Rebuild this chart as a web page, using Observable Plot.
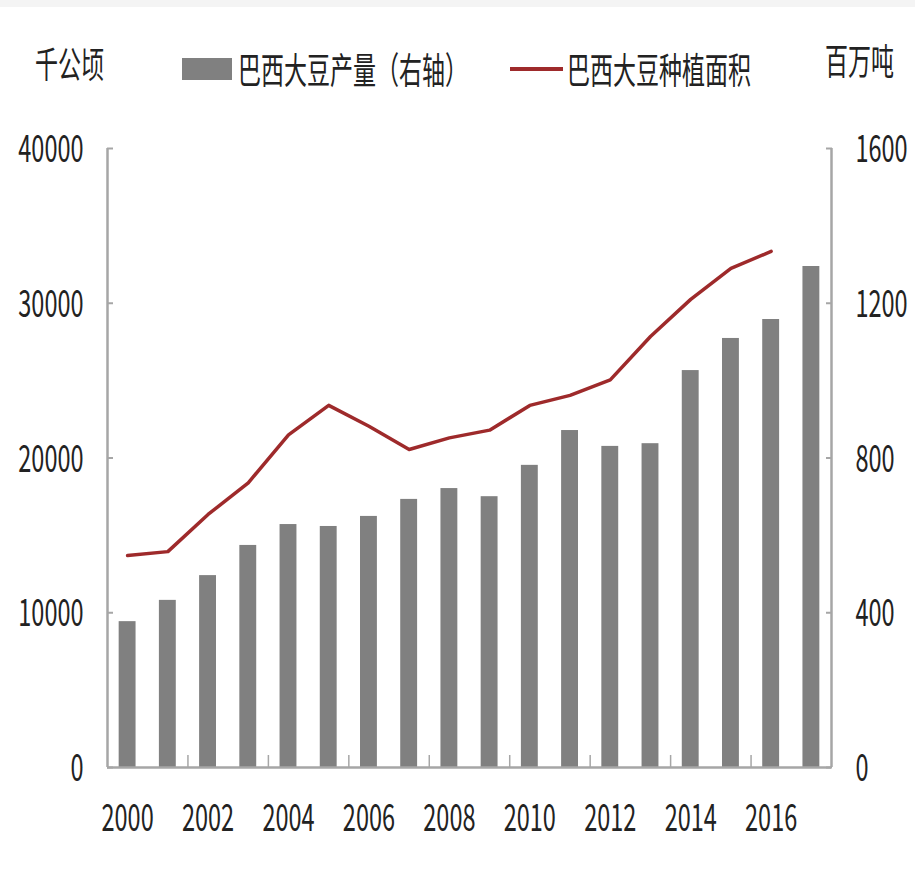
<!DOCTYPE html>
<html><head><meta charset="utf-8">
<script src="https://cdn.jsdelivr.net/npm/d3@7"></script>
<script src="https://cdn.jsdelivr.net/npm/@observablehq/plot@0.6"></script>
<style>
body{margin:0;background:#fff;}
#wrap{position:relative;width:915px;height:878px;overflow:hidden;font-family:"Noto Sans CJK SC";color:#222;}
#strip{position:absolute;left:0;top:0;width:915px;height:7px;background:#f4f4f4;}
#header{position:relative;height:100px;}
.t{position:absolute;font-size:23px;line-height:23px;white-space:nowrap;transform:scaleY(1.6);transform-origin:50% 50%;}
.sw{position:absolute;}
#chart{position:relative;height:778px;}
</style></head>
<body><div id="wrap"><div id="strip"></div><div id="header"></div><div id="chart"></div></div>
<script>
// ---- data ----
const years = [2000,2001,2002,2003,2004,2005,2006,2007,2008,2009,2010,2011,2012,2013,2014,2015,2016,2017];
// 巴西大豆产量 (右轴, 百万吨)
const production = [377,432,496,574,628,623,649,693,721,700,781,871,830,837,1026,1109,1158,1295];
// 巴西大豆种植面积 (左轴, 千公顷)
const areaYears = [2000,2001,2002,2003,2004,2005,2006,2007,2008,2009,2010,2011,2012,2013,2014,2015,2016];
const area = [13700,13950,16350,18400,21500,23400,22050,20550,21300,21800,23400,24050,25050,27850,30250,32250,33350];
const leftTicks = [0,10000,20000,30000,40000];
const xLabelYears = [2000,2002,2004,2006,2008,2010,2012,2014,2016];
const leftUnit = "千公顷", rightUnit = "百万吨";
const seriesBar = "巴西大豆产量（右轴）", seriesLine = "巴西大豆种植面积";
const ratio = 25; // 40000 千公顷 ↔ 1600 百万吨

const barColor = "#808080", lineColor = "#9e2a2b", axisColor = "#a6a6a6";

// ---- header ----
const header = document.getElementById("header");
function addText(txt, left, cy){
  const s = document.createElement("span");
  s.className = "t"; s.textContent = txt;
  s.style.left = left + "px"; s.style.top = (cy - 12.5) + "px";
  header.appendChild(s);
}
function addSwatch(left, top, w, h, color){
  const d = document.createElement("div");
  d.className = "sw"; d.style.left = left+"px"; d.style.top = top+"px";
  d.style.width = w+"px"; d.style.height = h+"px"; d.style.background = color;
  header.appendChild(d);
}
addText(leftUnit, 35, 63);
addSwatch(182, 58, 50, 22, barColor);
addText(seriesBar, 238, 69);
addSwatch(510, 67, 53, 4, lineColor);
addText(seriesLine, 567, 69);
addText(rightUnit, 825, 60);

// ---- chart ----
const prodData = years.map((y,i)=>({year:y, v:production[i]}));
const areaData = areaYears.map((y,i)=>({year:y, v:area[i]}));
const boundaryTicks = xLabelYears.slice(1).map(y=>y-0.5);

const chart = Plot.plot({
  width: 915, height: 778,
  marginTop: 48, marginBottom: 111, marginLeft: 107, marginRight: 84,
  x: {type:"linear", domain:[years[0]-0.5, years[years.length-1]+0.5]},
  y: {domain:[0,40000]},
  style: {fontFamily:"Noto Sans CJK SC", fontSize:"23.5px", color:"#222", background:"#fff"},
  marks: [
    Plot.rectY(prodData, {x1: d=>d.year-0.21, x2: d=>d.year+0.21, y: d=>d.v*ratio, fill: barColor}),
    Plot.ruleX([years[0]-0.5, years[years.length-1]+0.5], {stroke: axisColor, strokeWidth: 2.5}),
    Plot.ruleY([0], {stroke: axisColor, strokeWidth: 2.5}),
    Plot.axisY({anchor:"left", ticks:leftTicks, tickSize:6, dx:6, tickFormat:()=>"", stroke:axisColor, strokeWidth:2, label:null}),
    Plot.axisY({anchor:"right", ticks:leftTicks, tickSize:6, dx:-6, tickFormat:()=>"", stroke:axisColor, strokeWidth:2, label:null}),
    Plot.axisY({anchor:"left", ticks:leftTicks, tickSize:0, tickPadding:24, tickFormat:d=>String(d), label:null, fill:"#222"}),
    Plot.axisY({anchor:"right", ticks:leftTicks, tickSize:0, tickPadding:24, tickFormat:d=>String(d/ratio), label:null, fill:"#222"}),
    Plot.axisX({ticks:boundaryTicks, tickSize:12, dy:-12, tickFormat:()=>"", stroke:axisColor, strokeWidth:1.5, label:null}),
    Plot.axisX({ticks:xLabelYears, tickSize:0, tickPadding:41, tickFormat:d=>String(d), label:null, fill:"#222"}),
    Plot.line(areaData, {x:"year", y:"v", stroke: lineColor, strokeWidth: 3.5})
  ]
});
document.getElementById("chart").appendChild(chart);

// vertical stretch of the text to match the reference's condensed look
chart.querySelectorAll("text").forEach(t=>{
  if (!t.textContent) return;
  const bb = t.getBBox();
  const cx = bb.x + bb.width/2, cy = bb.y + bb.height/2;
  const tr = t.getAttribute("transform") || "";
  t.setAttribute("transform", `${tr} translate(${cx},${cy}) scale(1,1.6) translate(${-cx},${-cy})`);
});
</script>
</body></html>
